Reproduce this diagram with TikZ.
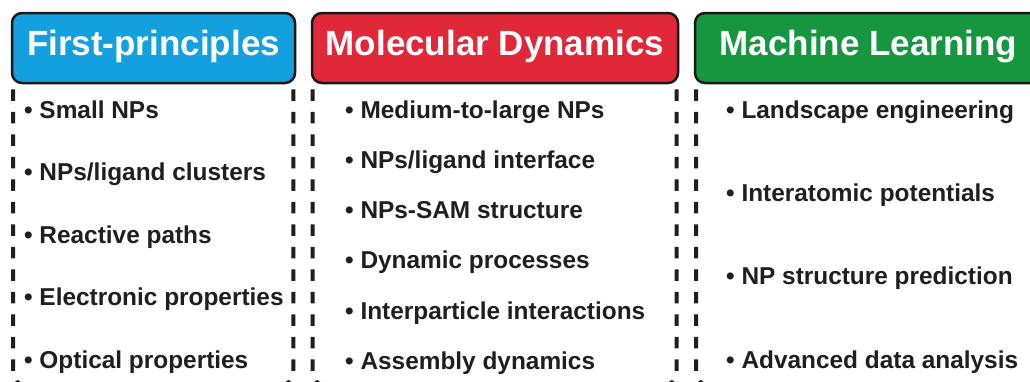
\documentclass[tikz,border=0pt]{standalone}
\usepackage{fontspec}
\setmainfont{Liberation Sans}
\definecolor{fpblue}{RGB}{20,160,222}
\definecolor{mdred}{RGB}{224,40,56}
\definecolor{mlgreen}{RGB}{22,150,62}
\tikzset{
	head/.style={draw=black!90, line width=2.5pt, rounded corners=10pt, minimum height=70pt, inner sep=0pt, text=white, text height=24pt, text depth=10pt, font=\fontsize{35}{40}\selectfont\bfseries},
	item/.style={anchor=base west, inner sep=0pt, text=black!88, font=\fontsize{24.4}{28}\selectfont\bfseries},
	dashbox/.style={line width=4pt, dash pattern=on 11.5pt off 11pt, dash phase=17.2pt, rounded corners=12pt, draw=black!88},
}

\begin{document}
\begin{tikzpicture}[x=1pt, y=-1pt]
		%%%%% START %%%%%
		
		\useasboundingbox (0, 0) rectangle (1030, 381);
		\clip (0, 0) rectangle (1030, 381);
		\fill[white] (0, 0) rectangle (1030, 381);
		\coordinate (bottom) at (0, 385);
		
		\coordinate (fpl) at (13, 84);
		\coordinate (fpr) at (293.3, 84);
		\coordinate (mdl) at (312.5, 84);
		\coordinate (mdr) at (676.5, 84);
		\coordinate (mll) at (696, 84);
		\coordinate (mlr) at (1045, 84);
		
		% dashed sides, each drawn downwards
		\draw[dashbox] (fpl) -- (fpl |- bottom) -- (150, 385);
		\draw[dashbox] (fpr) -- (fpr |- bottom) -- (150, 385);
		\draw[dashbox] (mdl) -- (mdl |- bottom) -- (495, 385);
		\draw[dashbox] (mdr) -- (mdr |- bottom) -- (495, 385);
		\draw[dashbox] (mll) -- (mll |- bottom) -- (870, 385);
		\draw[dashbox] (mlr) -- (mlr |- bottom) -- (870, 385);
		
		\node[head, fill=fpblue, minimum width=283pt] (fp) at (153.5, 48) {First-principles};
		\node[head, fill=mdred, minimum width=366pt] (md) at (495, 48) {Molecular Dynamics};
		\node[head, fill=mlgreen, minimum width=347pt] (ml) at (868.5, 48) {Machine Learning};
		
		\node[item] (fp1) at (24, 118) {\textbullet\ Small NPs};
		\node[item] (fp2) at (24, 180.5) {\textbullet\ NPs/ligand clusters};
		\node[item] (fp3) at (24, 243) {\textbullet\ Reactive paths};
		\node[item] (fp4) at (24, 305.5) {\textbullet\ Electronic properties};
		\node[item] (fp5) at (24, 368) {\textbullet\ Optical properties};
		
		\node[item] (md1) at (345, 118) {\textbullet\ Medium-to-large NPs};
		\node[item] (md2) at (345, 168.3) {\textbullet\ NPs/ligand interface};
		\node[item] (md3) at (345, 218.6) {\textbullet\ NPs-SAM structure};
		\node[item] (md4) at (345, 268.9) {\textbullet\ Dynamic processes};
		\node[item] (md5) at (345, 319.2) {\textbullet\ Interparticle interactions};
		\node[item] (md6) at (345, 369.5) {\textbullet\ Assembly dynamics};
		
		\node[item] (ml1) at (726, 118) {\textbullet\ Landscape engineering};
		\node[item] (ml2) at (726, 201.3) {\textbullet\ Interatomic potentials};
		\node[item] (ml3) at (726, 284.7) {\textbullet\ NP structure prediction};
		\node[item] (ml4) at (726, 368) {\textbullet\ Advanced data analysis};
		
		%%%%% END %%%%%
	\end{tikzpicture}
\end{document}
